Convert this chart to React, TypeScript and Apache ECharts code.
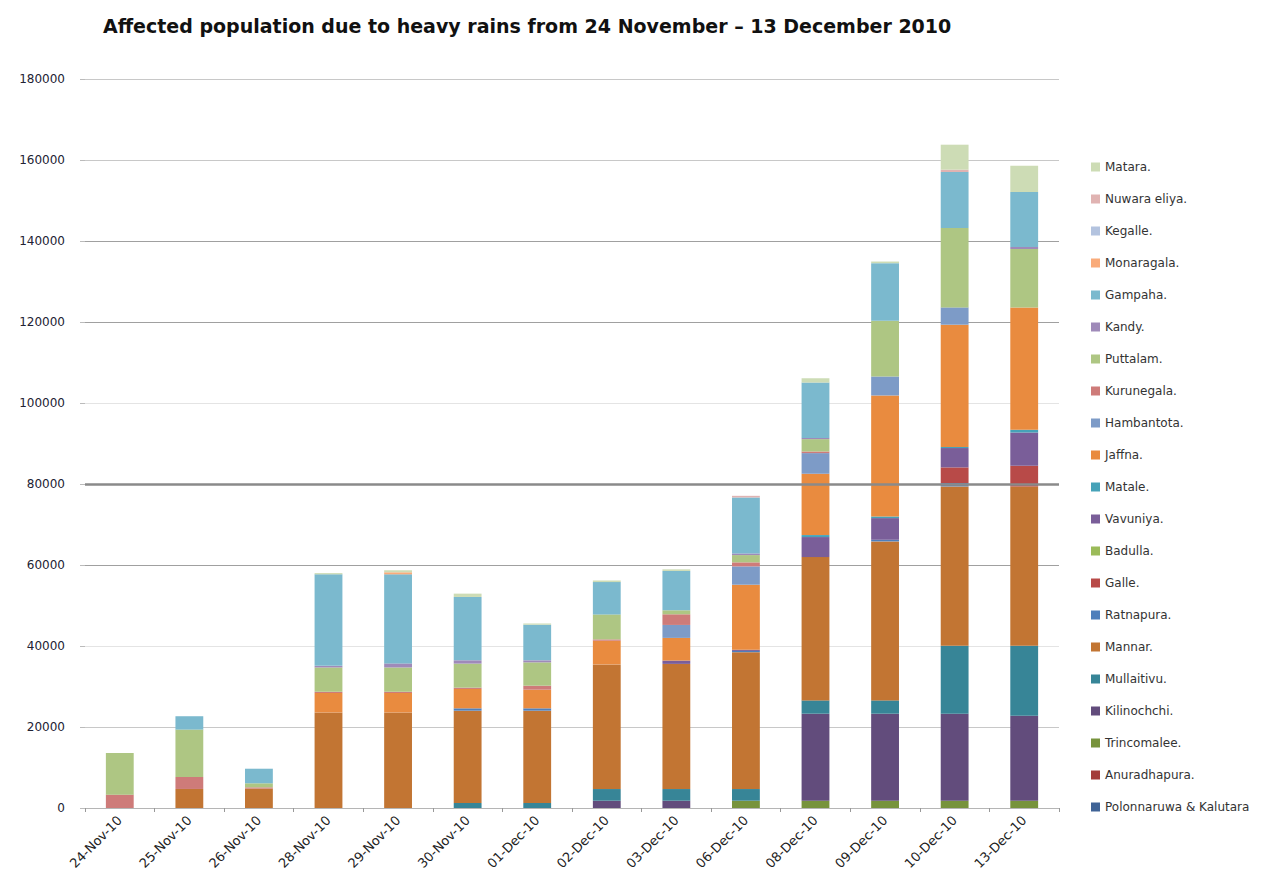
import React, { useEffect, useRef } from "react";
import * as echarts from "echarts";

const categories = [
  "24-Nov-10", "25-Nov-10", "26-Nov-10", "28-Nov-10", "29-Nov-10", "30-Nov-10", "01-Dec-10",
  "02-Dec-10", "03-Dec-10", "06-Dec-10", "08-Dec-10", "09-Dec-10", "10-Dec-10", "13-Dec-10",
];

// stack order: bottom first
const seriesNames = [
  "Polonnaruwa & Kalutara", "Anuradhapura.", "Trincomalee.", "Kilinochchi.", "Mullaitivu.",
  "Mannar.", "Ratnapura.", "Galle.", "Badulla.", "Vavuniya.", "Matale.", "Jaffna.",
  "Hambantota.", "Kurunegala.", "Puttalam.", "Kandy.", "Gampaha.", "Monaragala.",
  "Kegalle.", "Nuwara eliya.", "Matara.",
];

const seriesColors = [
  "#3f6396", "#a33d3b", "#77933c", "#624c7c", "#378597",
  "#c27533", "#4f7fbb", "#b84a48", "#9bbb59", "#7a5e99", "#46a2b8", "#e98b3f",
  "#7d9bc7", "#ce7b79", "#aec683", "#9f8ab9", "#7bb9ce", "#f9ab7a",
  "#b3c3df", "#e0b3b2", "#cddcb5",
];

const polonnaruwaKalutara = [0, 0, 0, 0, 0, 0, 0, 0, 0, 0, 0, 0, 0, 0];
const anuradhapura = [0, 0, 0, 0, 0, 0, 0, 0, 0, 0, 0, 0, 0, 0];
const trincomalee = [0, 0, 0, 0, 0, 0, 0, 0, 0, 1800, 1800, 1800, 1800, 1800];
const kilinochchi = [0, 0, 0, 0, 0, 0, 0, 1800, 1800, 0, 21480, 21480, 21480, 20990];
const mullaitivu = [0, 0, 0, 0, 0, 1230, 1230, 2880, 2880, 2880, 3290, 3290, 16790, 17280];
const mannar = [0, 4700, 4800, 23600, 23600, 22800, 22800, 30780, 30900, 33800, 35390, 39260, 39340, 39340];
const ratnapura = [0, 0, 0, 0, 0, 580, 580, 0, 0, 300, 0, 400, 840, 0];
const galle = [0, 0, 0, 0, 0, 0, 0, 0, 0, 0, 0, 0, 3850, 5100];
const badulla = [0, 0, 0, 0, 0, 0, 0, 0, 0, 0, 0, 0, 0, 0];
const vavuniya = [0, 0, 0, 0, 0, 0, 0, 0, 820, 300, 4940, 5350, 4780, 8230];
const matale = [0, 0, 0, 0, 0, 0, 0, 0, 0, 0, 490, 400, 250, 660];
const jaffna = [0, 0, 0, 4800, 4800, 4780, 4600, 5840, 5600, 16050, 15140, 29880, 30200, 30200];
const hambantota = [0, 0, 0, 0, 0, 0, 0, 0, 3200, 4530, 5100, 4690, 4280, 0];
const kurunegala = [3300, 2960, 300, 300, 300, 330, 990, 330, 2630, 990, 400, 0, 0, 0];
const puttalam = [10300, 11700, 1000, 6000, 6000, 5930, 5760, 6170, 990, 1800, 3050, 13740, 19590, 14400];
const kandy = [0, 0, 0, 400, 1000, 820, 500, 0, 0, 400, 300, 0, 0, 490];
const gampaha = [0, 3300, 3600, 22600, 22000, 15640, 8800, 7980, 9710, 13830, 13660, 14240, 13830, 13580];
const monaragala = [0, 0, 0, 0, 500, 0, 0, 0, 0, 0, 0, 0, 0, 0];
const kegalle = [0, 0, 0, 0, 0, 0, 0, 0, 0, 0, 0, 0, 0, 0];
const nuwaraEliya = [0, 0, 0, 0, 0, 0, 0, 0, 0, 400, 0, 0, 580, 0];
const matara = [0, 0, 0, 300, 500, 820, 300, 400, 400, 0, 1070, 400, 6170, 6500];

const seriesValues = [
  polonnaruwaKalutara, anuradhapura, trincomalee, kilinochchi, mullaitivu,
  mannar, ratnapura, galle, badulla, vavuniya, matale, jaffna,
  hambantota, kurunegala, puttalam, kandy, gampaha, monaragala,
  kegalle, nuwaraEliya, matara,
];

const yTicks = [0, 20000, 40000, 60000, 80000, 100000, 120000, 140000, 160000, 180000];

const FONT = "'DejaVu Sans', 'Liberation Sans', sans-serif";

export default function App() {
  const ref = useRef<HTMLDivElement>(null);

  useEffect(() => {
    if (!ref.current) return;
    const chart = echarts.init(ref.current, undefined, { renderer: "svg" });
    const series: any[] = seriesNames.map((name, i) => ({
      name,
      type: "bar",
      stack: "total",
      barWidth: "40%",
      itemStyle: { color: seriesColors[i] },
      emphasis: { disabled: true },
      data: seriesValues[i],
    }));
    series[series.length - 1].markLine = {
      silent: true,
      symbol: "none",
      label: { show: false },
      lineStyle: { color: "#8a8a8a", width: 2.5, type: "solid" },
      data: [{ yAxis: yTicks[4] }],
    };
    chart.setOption({
      animation: false,
      textStyle: { fontFamily: FONT },
      title: {
        text: "Affected population due to heavy rains from 24 November – 13 December 2010",
        left: 98,
        top: 11,
        textStyle: { fontFamily: FONT, fontSize: 19, fontWeight: "bold", color: "#111" },
      },
      legend: {
        orient: "vertical",
        left: 1086,
        top: 155,
        itemWidth: 9,
        itemHeight: 9,
        itemGap: 18,
        icon: "rect",
        data: [...seriesNames].reverse(),
        textStyle: { fontFamily: FONT, fontSize: 12, color: "#333", lineHeight: 14 },
        selectedMode: false,
      },
      grid: { left: 85, right: 220, top: 79, bottom: 81, containLabel: false },
      xAxis: {
        type: "category",
        data: categories,
        axisLine: { lineStyle: { color: "#b5b5b5" } },
        axisTick: { show: true, length: 4, lineStyle: { color: "#999" } },
        axisLabel: { rotate: 45, fontSize: 13, color: "#222", margin: 10, fontFamily: FONT },
      },
      yAxis: {
        type: "value",
        min: 0,
        max: 180000,
        interval: 20000,
        axisLine: { show: false },
        axisTick: { show: true, length: 5, lineStyle: { color: "#bbb" } },
        axisLabel: {
          fontSize: 12,
          color: "#223",
          margin: 20,
          fontFamily: FONT,
          formatter: (v: number) => String(v),
        },
        splitLine: {
          lineStyle: {
            color: ["#c8c8c8", "#c8c8c8", "#e4e4e4", "#a0a0a0", "#8a8a8a", "#e4e4e4", "#a0a0a0", "#a0a0a0", "#c8c8c8", "#c8c8c8"],
            width: 1,
          },
        },
      },
      series,
    });
    return () => chart.dispose();
  }, []);

  return (
    <div
      ref={ref}
      style={{ position: "absolute", left: 0, top: 0, width: 1279, height: 889 }}
    />
  );
}
